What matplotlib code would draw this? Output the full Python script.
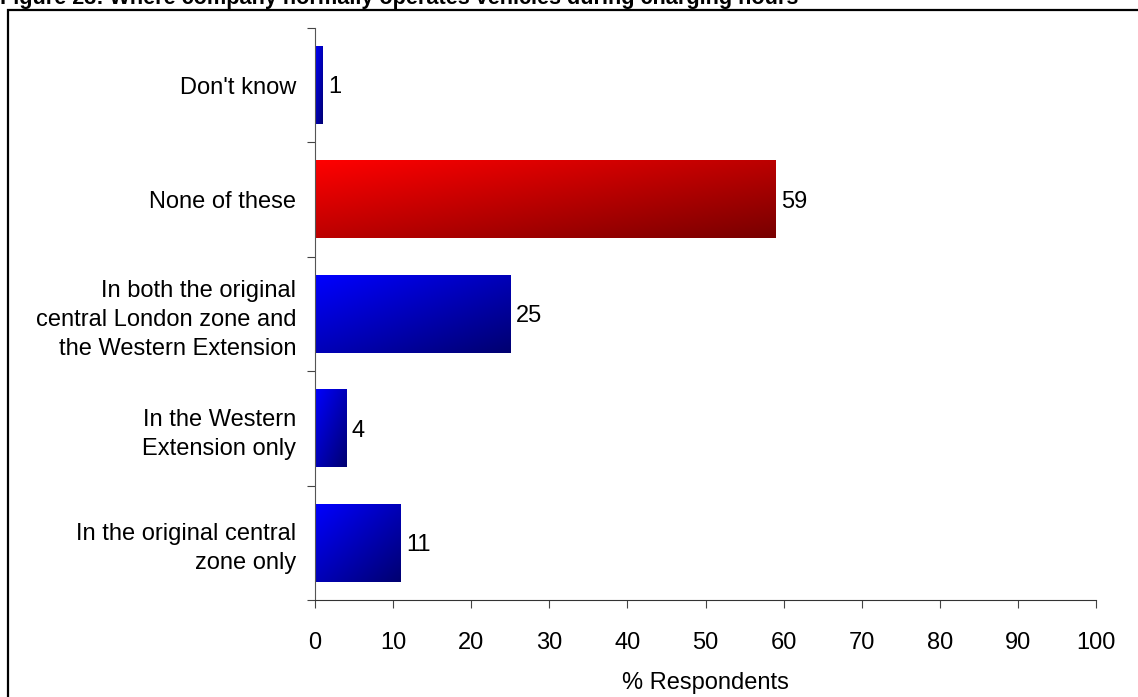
import numpy as np
import matplotlib
matplotlib.use('Agg')
import matplotlib.pyplot as plt
from matplotlib.colors import LinearSegmentedColormap
from matplotlib.patches import Rectangle

plt.rcParams['font.family'] = ['Liberation Sans', 'DejaVu Sans']

# survey answers, bottom to top
categories = [
    'In the original central\nzone only',
    'In the Western\nExtension only',
    'In both the original\ncentral London zone and\nthe Western Extension',
    'None of these',
    "Don't know",
]
values = [11, 4, 25, 59, 1]
highlight = [False, False, False, True, False]
xticks = list(range(0, 101, 10))

title = 'Figure 23: Where company normally operates vehicles during charging hours'
xlabel = '% Respondents'

blue_cmap = LinearSegmentedColormap.from_list('blue_grad', ['#0000ff', '#000070'])
red_cmap = LinearSegmentedColormap.from_list('red_grad', ['#ff0000', '#780000'])

FS = 17
W, H = 1138, 697
fig = plt.figure(figsize=(W / 100, H / 100), dpi=100)
ax = fig.add_axes([315 / W, 1 - 600 / H, (1096 - 315) / W, (600 - 28) / H])

bar_h = 0.68
ypos = np.arange(len(values))

# diagonal gradient: bright top-left, dark bottom-right
u = np.linspace(0, 1, 200)[None, :]
v = np.linspace(0, 1, 100)[:, None]
grad = 0.5 * u + 0.5 * v

for y, val, hl in zip(ypos, values, highlight):
    cmap = red_cmap if hl else blue_cmap
    bar = ax.barh(y, val, height=bar_h, color='none', edgecolor='none')[0]
    ax.imshow(grad, cmap=cmap, vmin=0, vmax=1, aspect='auto',
              extent=[0, val, y - bar_h / 2, y + bar_h / 2],
              origin='upper', interpolation='bilinear', zorder=2,
              clip_path=bar, clip_on=True)
    ax.text(val + 0.7, y - 0.02, str(val), va='center', ha='left', fontsize=FS)

ax.set_xlim(0, 100)
ax.set_ylim(-0.5, len(values) - 0.5)
ax.set_xticks(xticks)
ax.set_xticklabels([str(t) for t in xticks], fontsize=FS)
ax.set_xlabel(xlabel, fontsize=FS, labelpad=13)

# category labels drawn between the boundary ticks
ax.set_yticks(np.arange(-0.5, len(values), 1.0))
ax.set_yticklabels([])
ax.set_yticks(ypos, minor=True)
ax.set_yticklabels(categories, minor=True, fontsize=FS, linespacing=1.42)
ax.tick_params(axis='y', which='minor', length=0, pad=13.5)
ax.tick_params(axis='y', which='major', length=6, width=0.8, color='#444444')
ax.tick_params(axis='x', length=6, width=0.8, color='#444444', pad=17)

for side in ['top', 'right']:
    ax.spines[side].set_visible(False)
ax.spines['left'].set_color('#555555')
ax.spines['bottom'].set_color('#333333')

# outer frame around the chart
fig.add_artist(Rectangle((8 / W, -0.05), 1.1, 1 - 10 / H + 0.05,
                         transform=fig.transFigure, fill=False,
                         edgecolor='black', linewidth=1.6))
fig.text(0, 1 - 4 / H, title, fontsize=15.6, fontweight='bold',
         ha='left', va='baseline')

fig.savefig('out.png', dpi=100)
